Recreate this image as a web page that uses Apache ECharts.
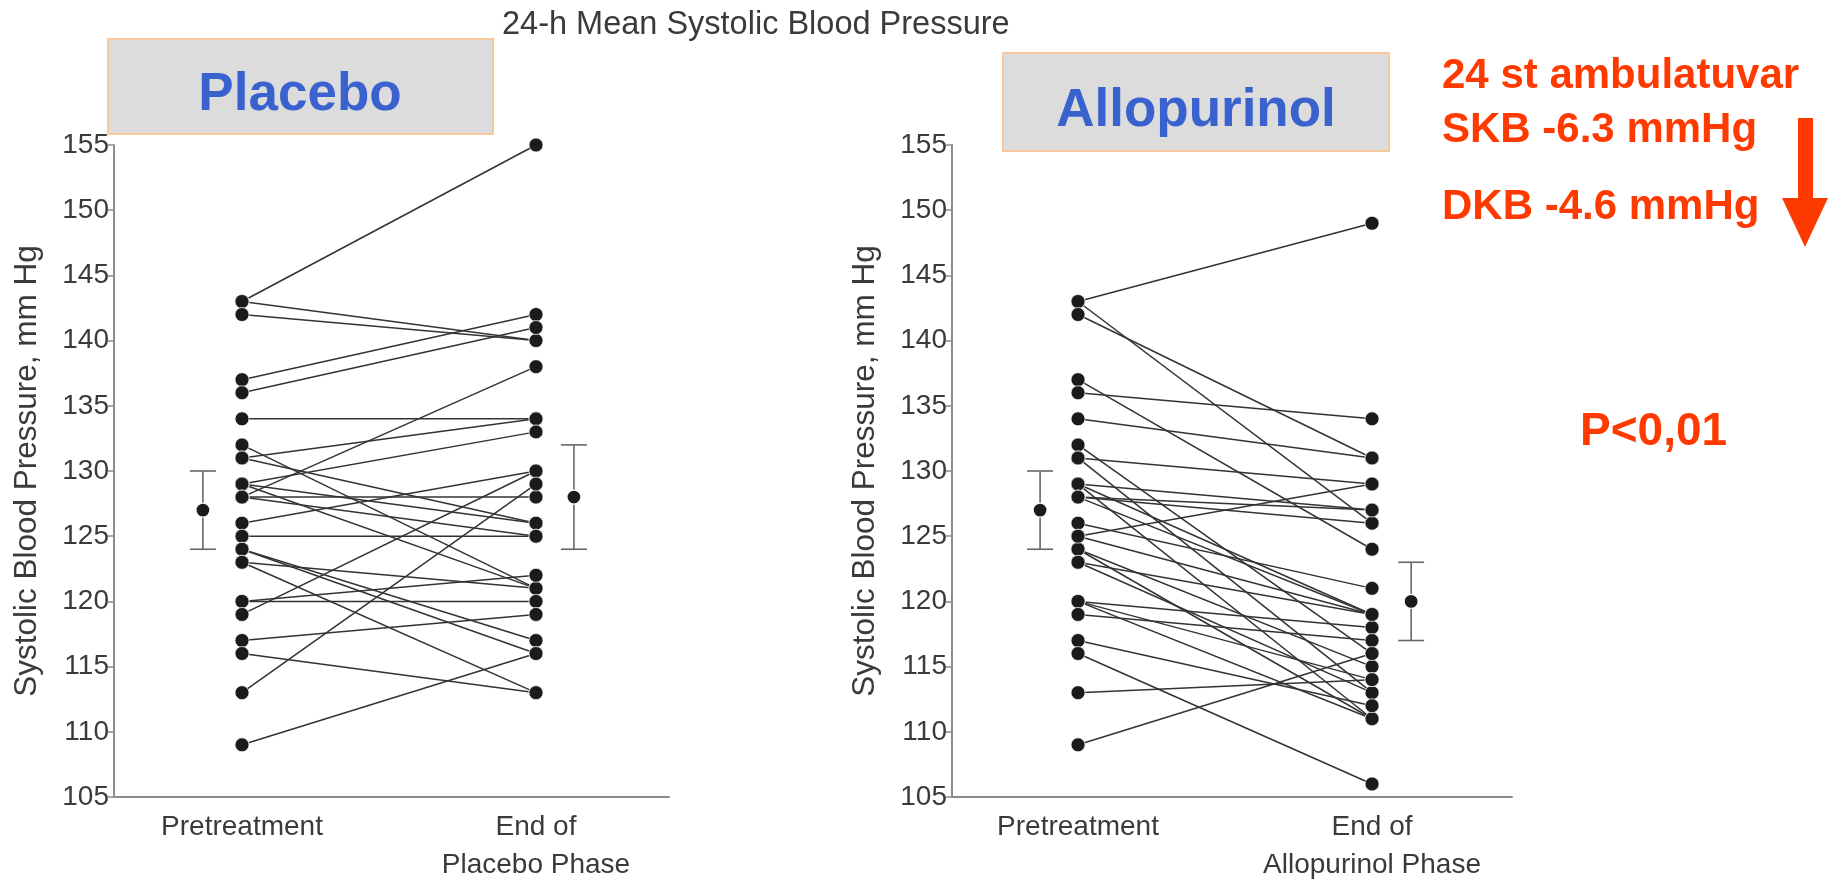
<!DOCTYPE html>
<html>
<head>
<meta charset="utf-8">
<script src="https://cdn.jsdelivr.net/npm/echarts@6/dist/echarts.min.js"></script>
<style>
  html, body { margin: 0; padding: 0; background: #ffffff; width: 1840px; height: 879px; overflow: hidden; }
  #chart { position: absolute; left: 0; top: 0; width: 1840px; height: 879px; }
</style>
</head>
<body>
<div id="chart"></div>
<script>
// ---- data -------------------------------------------------------------
// Paired 24-h mean systolic pressure (mm Hg): each index is one patient.
const placeboPre = [143, 143, 142, 137, 136, 134, 132, 131, 131, 129, 129, 129, 128, 128,
                    128, 126, 125, 124, 124, 123, 123, 120, 120, 119, 117, 116, 113, 109];
const placeboEnd = [155, 140, 140, 142, 141, 134, 121, 134, 126, 133, 121, 126, 138, 128,
                    125, 130, 125, 117, 116, 121, 113, 120, 122, 130, 119, 113, 129, 116];

const alloPre = [143, 143, 142, 137, 136, 134, 132, 131, 131, 129, 129, 129, 128, 128, 126,
                 125, 124, 124, 123, 123, 120, 120, 120, 119, 117, 116, 113, 109, 128, 125];
const alloEnd = [149, 126, 131, 124, 134, 131, 116, 129, 113, 127, 119, 111, 126, 119, 121,
                 129, 115, 111, 119, 113, 118, 114, 111, 117, 112, 106, 114, 116, 127, 119];

// Group means with 95% confidence limits: [pretreatment, end of phase]
const placeboMean = [127, 128];
const placeboLow  = [124, 124];
const placeboHigh = [130, 132];
const alloMean = [127, 120];
const alloLow  = [124, 117];
const alloHigh = [130, 123];

const placeboLabels = ['Pretreatment', 'End of\nPlacebo Phase'];
const alloLabels    = ['Pretreatment', 'End of\nAllopurinol Phase'];
const yMin = 105, yMax = 155, yStep = 5;

// ---- layout -----------------------------------------------------------
// x units: 1 = pretreatment column, 2 = end-of-phase column
const FONT = '"Liberation Sans", Arial, Helvetica, sans-serif';
const TEXT = '#3a3a3a';
const AXIS = '#8c8c8c';

const panels = [
  { grid: { left: 114, top: 145, width: 555, height: 652 },
    xMin: 0.5646, xMax: 2.4524, errX: [0.867, 2.129],
    pre: placeboPre, end: placeboEnd, labels: placeboLabels,
    mean: placeboMean, low: placeboLow, high: placeboHigh },
  { grid: { left: 952, top: 145, width: 560, height: 652 },
    xMin: 0.5714, xMax: 2.476, errX: [0.871, 2.133],
    pre: alloPre, end: alloEnd, labels: alloLabels,
    mean: alloMean, low: alloLow, high: alloHigh }
];

const grids = [], xAxes = [], yAxes = [], series = [];

panels.forEach((p, k) => {
  // keep the plot box exactly where it is placed, even though the
  // two-line category labels reach the bottom edge of the canvas
  grids.push(Object.assign({ containLabel: false, outerBoundsMode: 'none' }, p.grid));

  xAxes.push({
    type: 'value', gridIndex: k, min: p.xMin, max: p.xMax,
    axisLine: { show: true, onZero: false, lineStyle: { color: AXIS, width: 2 } },
    axisTick: { show: false },
    splitLine: { show: false },
    axisLabel: {
      customValues: [1, 2],
      formatter: v => p.labels[Math.round(v) - 1],
      fontFamily: FONT, fontSize: 28, color: TEXT,
      margin: 11, lineHeight: 38
    }
  });

  yAxes.push({
    type: 'value', gridIndex: k, min: yMin, max: yMax, interval: yStep,
    axisLine: { show: true, lineStyle: { color: AXIS, width: 2 } },
    axisTick: { show: true, length: 6, lineStyle: { color: AXIS, width: 1.5 } },
    splitLine: { show: false },
    axisLabel: { fontFamily: FONT, fontSize: 28, color: TEXT, margin: 5 },
    name: 'Systolic Blood Pressure, mm Hg',
    nameLocation: 'middle', nameGap: 71, nameRotate: 90,
    nameTextStyle: { fontFamily: FONT, fontSize: 31.5, color: TEXT }
  });

  // one connecting line per patient
  p.pre.forEach((v, i) => {
    series.push({
      type: 'line', xAxisIndex: k, yAxisIndex: k, silent: true,
      symbol: 'none', z: 2, animation: false,
      lineStyle: { color: '#333333', width: 1.5 },
      data: [[1, v], [2, p.end[i]]]
    });
  });

  // individual readings
  series.push({
    type: 'scatter', xAxisIndex: k, yAxisIndex: k, silent: true, z: 4, animation: false,
    symbolSize: 14,
    itemStyle: { color: '#1b1b1b', borderColor: '#ffffff', borderWidth: 0.7, opacity: 1 },
    data: p.pre.map(v => [1, v]).concat(p.end.map(v => [2, v]))
  });

  // mean with confidence limits
  series.push({
    type: 'custom', xAxisIndex: k, yAxisIndex: k, silent: true, z: 5, animation: false,
    data: p.mean.map((m, j) => [p.errX[j], m, p.low[j], p.high[j]]),
    renderItem: (params, api) => {
      const x = api.value(0);
      const pm = api.coord([x, api.value(1)]);
      const pl = api.coord([x, api.value(2)]);
      const ph = api.coord([x, api.value(3)]);
      const half = 13;
      const st = { stroke: '#666666', lineWidth: 1.6, fill: null };
      return {
        type: 'group',
        children: [
          { type: 'line', shape: { x1: pl[0], y1: pl[1], x2: ph[0], y2: ph[1] }, style: st },
          { type: 'line', shape: { x1: pl[0] - half, y1: pl[1], x2: pl[0] + half, y2: pl[1] }, style: st },
          { type: 'line', shape: { x1: ph[0] - half, y1: ph[1], x2: ph[0] + half, y2: ph[1] }, style: st },
          { type: 'circle', shape: { cx: pm[0], cy: pm[1], r: 7 },
            style: { fill: '#1b1b1b', stroke: '#ffffff', lineWidth: 1.2 } }
        ]
      };
    }
  });
});

const RED = '#ff3a00';
const option = {
  backgroundColor: '#ffffff',
  animation: false,
  title: {
    text: '24-h Mean Systolic Blood Pressure',
    left: 497, top: 4,
    textStyle: { fontFamily: FONT, fontSize: 32.5, fontWeight: 'normal', color: TEXT }
  },
  grid: grids,
  xAxis: xAxes,
  yAxis: yAxes,
  series: series,
  graphic: [
    { type: 'rect', shape: { x: 108, y: 39, width: 385, height: 95 },
      style: { fill: '#dcdcdc', stroke: '#f7c99c', lineWidth: 2 }, z: 10 },
    { type: 'text', x: 300, y: 95, z: 11,
      style: { text: 'Placebo', fill: '#3a62cf', font: 'bold 53px ' + FONT,
               align: 'center', verticalAlign: 'middle' } },
    { type: 'rect', shape: { x: 1003, y: 53, width: 386, height: 98 },
      style: { fill: '#dcdcdc', stroke: '#f7c99c', lineWidth: 2 }, z: 10 },
    { type: 'text', x: 1196, y: 111, z: 11,
      style: { text: 'Allopurinol', fill: '#3a62cf', font: 'bold 53px ' + FONT,
               align: 'center', verticalAlign: 'middle' } },
    { type: 'text', x: 1442, y: 76, z: 11,
      style: { text: '24 st ambulatuvar', fill: RED, font: 'bold 42px ' + FONT,
               align: 'left', verticalAlign: 'middle' } },
    { type: 'text', x: 1442, y: 130, z: 11,
      style: { text: 'SKB -6.3 mmHg', fill: RED, font: 'bold 42px ' + FONT,
               align: 'left', verticalAlign: 'middle' } },
    { type: 'text', x: 1442, y: 207, z: 11,
      style: { text: 'DKB -4.6 mmHg', fill: RED, font: 'bold 42px ' + FONT,
               align: 'left', verticalAlign: 'middle' } },
    { type: 'text', x: 1580, y: 432, z: 11,
      style: { text: 'P<0,01', fill: RED, font: 'bold 46px ' + FONT,
               align: 'left', verticalAlign: 'middle' } },
    { type: 'polygon', z: 11,
      shape: { points: [[1798, 118], [1813, 118], [1813, 198], [1828, 198],
                        [1805, 247], [1782, 198], [1798, 198]] },
      style: { fill: RED } }
  ]
};

const chart = echarts.init(document.getElementById('chart'), null, { renderer: 'canvas' });
chart.setOption(option);
</script>
</body>
</html>
